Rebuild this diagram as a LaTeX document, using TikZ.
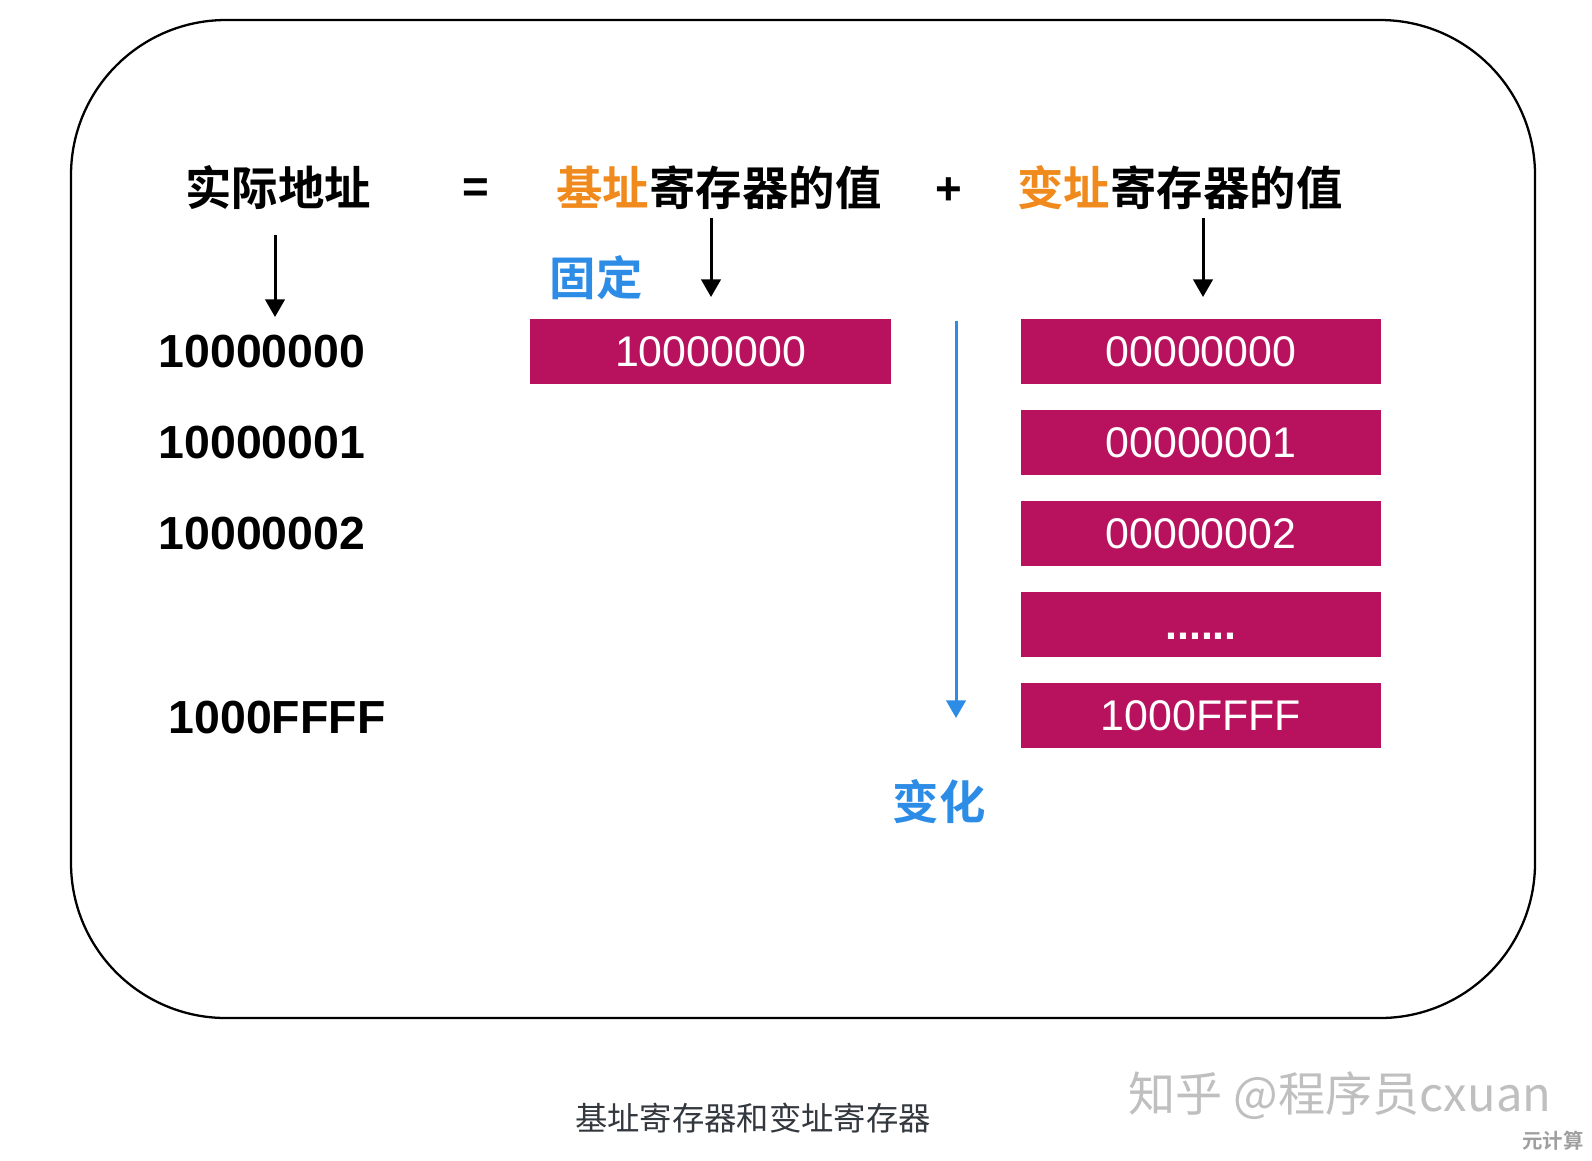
\documentclass[tikz,border=0pt]{standalone}
\usepackage{fontspec}
\setmainfont{Liberation Sans}
\newfontfamily\cjk{Noto Sans CJK SC}[BoldFont={Noto Sans CJK SC Bold}]
\usetikzlibrary{arrows.meta}

\definecolor{regmag}{HTML}{B8125F}
\definecolor{hlorange}{HTML}{F08A1C}
\definecolor{varblue}{HTML}{2D8DE6}
\definecolor{capgray}{HTML}{33383F}
\newcommand{\regdots}{\textbf{......}}

\begin{document}
\begin{tikzpicture}[x=0.01cm, y=-0.01cm,
        arr/.style={-{Triangle[length=5pt,width=5.5pt]}, line width=0.85pt},
        varr/.style={arr, draw=varblue, fill=varblue},
        title/.style={font=\cjk\bfseries\fontsize{13.2}{13.2}\selectfont, inner sep=0pt},
        sign/.style={font=\bfseries\fontsize{13}{13}\selectfont, inner sep=0pt},
        addr/.style={font=\bfseries\fontsize{13.2}{13.2}\selectfont, anchor=west, inner sep=0pt},
        reg/.style={fill=regmag, text=white, minimum width=3.6cm, minimum height=0.65cm,
            inner sep=0pt, text height=8.8pt, text depth=0pt, font=\fontsize{12.2}{12.2}\selectfont},
        note/.style={title, text=varblue}]
        \useasboundingbox (0,0) rectangle (1592,1160);

        % Frame:
        \draw [line width=0.65pt, rounded corners=1.55cm] (71,20) rectangle (1535,1018);

        % Formula:
        \node [title] (real) at (278,188) {实际地址};
        \node [sign] (eq) at (476,191) {=};
        \node [title] (base) at (719,188) {\textcolor{hlorange}{基址}寄存器的值};
        \node [sign] (plus) at (949,191) {+};
        \node [title] (index) at (1180,188) {\textcolor{hlorange}{变址}寄存器的值};

        % Arrows:
        \coordinate (realtip) at (275,317);
        \coordinate (basetip) at (711,297);
        \coordinate (indextip) at (1203,297);
        \draw [arr, shorten <=7pt] (real.south -| realtip) -- (realtip);
        \draw [arr, shorten <=2pt] (base.south -| basetip) -- (basetip);
        \draw [arr, shorten <=2pt] (index.south -| indextip) -- (indextip);

        % Addresses:
        \foreach \i/\v in {0/10000000,1/10000001,2/10000002}{%
        \node [addr] (addr\i) at (158,{352+91*\i}) {\v};
        }
        \node [addr] (addr4) at (168,717) {1000FFFF};

        % Registers:
        \node [reg] (basereg) at (710.5,351.5) {10000000};
        \foreach \i/\v in {0/00000000,1/00000001,2/00000002,3/\regdots,4/1000FFFF}{%
        \node [reg] (idx\i) at (1201,{351.5+91*\i}) {\v};
        }

        % Fixed and varying parts
        \node [note] (fixed) at (596,278) {固定};
        \coordinate (vtop) at (956,321);
        \coordinate (vend) at (956,718);
        \draw [varr] (vtop) -- (vend);
        \node [note] (vary) at (939,802) {变化};

        % Caption
        \node [font=\cjk\fontsize{9.2}{9.2}\selectfont, text=capgray] (caption) at (753,1118) {基址寄存器和变址寄存器};
        \node [font=\cjk\fontsize{13.4}{13.4}\selectfont, text=gray!50] (mark) at (1340,1096) {知乎 @程序员cxuan};
        \node [font=\cjk\bfseries\fontsize{5.8}{5.8}\selectfont, text=gray!75, inner sep=0pt] (site) at (1553,1141) {元计算};

    \end{tikzpicture}
\end{document}
